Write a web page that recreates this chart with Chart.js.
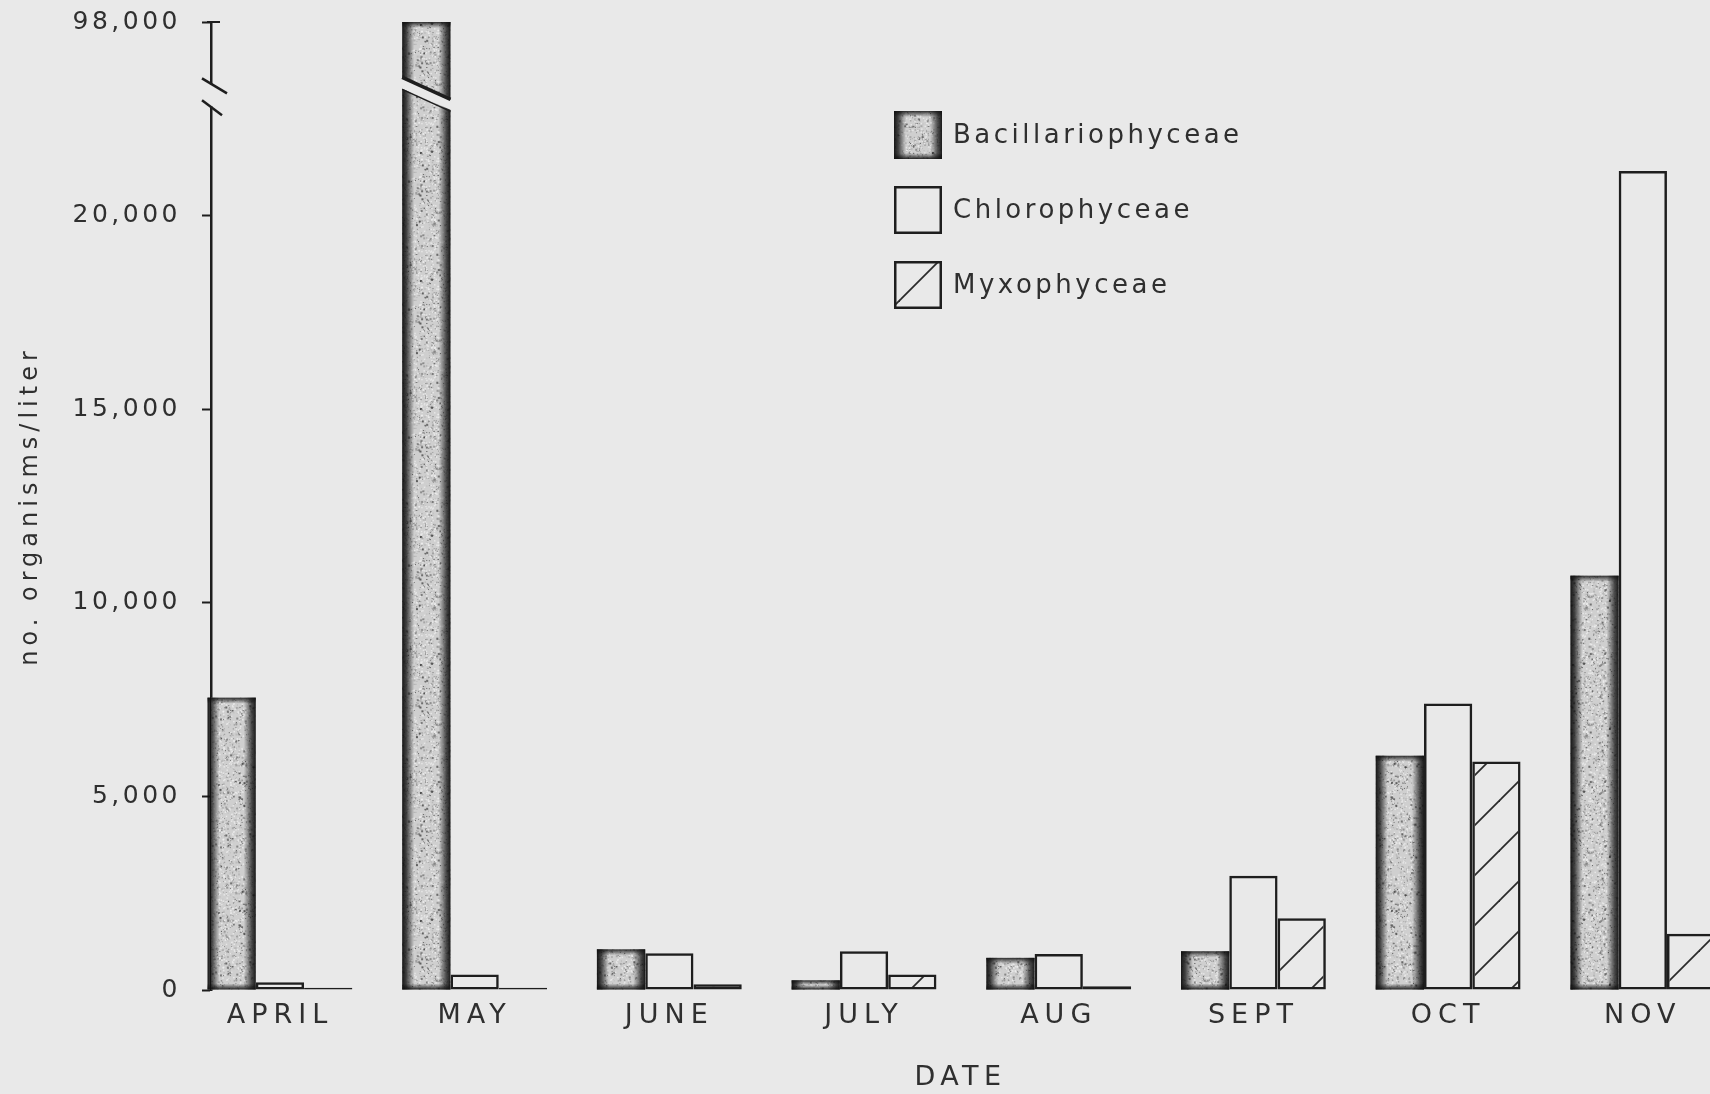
<!DOCTYPE html>
<html>
<head>
<meta charset="utf-8">
<title>Phytoplankton counts by month</title>
<script src="https://cdn.jsdelivr.net/npm/chart.js@4/dist/chart.umd.min.js"></script>
<style>
  html, body { margin: 0; padding: 0; background: #e9e9e9; overflow: hidden; }
  #wrap { width: 1710px; height: 1094px; }
  canvas { display: block; }
</style>
</head>
<body>
<div id="wrap"><canvas id="chart" width="1710" height="1094"></canvas></div>
<script>
// Monthly counts of three algal classes, organisms per litre
const months = ['APRIL', 'MAY', 'JUNE', 'JULY', 'AUG', 'SEPT', 'OCT', 'NOV'];
const bacillariophyceae = [7550, 98000, 1050, 250, 830, 1000, 6050, 10700];
const chlorophyceae     = [200, 400, 950, 1000, 930, 2950, 7400, 21150];
const myxophyceae       = [60, 60, 150, 400, 100, 1850, 5900, 1450];
const yTickValues = [0, 5000, 10000, 15000, 20000, 98000];

// Broken value axis: linear up to 22,000, the stretch up to 98,000 squeezed into the top
const LINEAR_LIMIT = 22000;
const AXIS_TOP = 98000;
const AXIS_TOP_DRAWN = 25000;
const BREAK_VALUE = 50000;

const BG = '#e9e9e9';
const INK = '#1e1e1e';
const TEXT = '#2f2f2f';
const FONT = 'DejaVu Sans';

function toAxis(v) {
  if (v <= LINEAR_LIMIT) return v;
  return LINEAR_LIMIT + (v - LINEAR_LIMIT) * (AXIS_TOP_DRAWN - LINEAR_LIMIT) / (AXIS_TOP - LINEAR_LIMIT);
}
function fromAxis(t) {
  if (t <= LINEAR_LIMIT) return t;
  return LINEAR_LIMIT + (t - LINEAR_LIMIT) * (AXIS_TOP - LINEAR_LIMIT) / (AXIS_TOP_DRAWN - LINEAR_LIMIT);
}

class BrokenAxis extends Chart.LinearScale {
  static id = 'brokenAxis';
  getPixelForValue(value) {
    return value === null ? NaN : super.getPixelForValue(toAxis(value));
  }
  getValueForPixel(pixel) {
    return fromAxis(super.getValueForPixel(pixel));
  }
  drawLabels(area) {
    this.ctx.save(); this.ctx.letterSpacing = '3.5px';
    super.drawLabels(area);
    this.ctx.restore();
  }
  drawTitle() {
    this.ctx.save(); this.ctx.letterSpacing = '5px';
    super.drawTitle();
    this.ctx.restore();
  }
}

class MonthAxis extends Chart.LinearScale {
  static id = 'monthAxis';
  drawLabels(area) {
    this.ctx.save(); this.ctx.letterSpacing = '6px';
    super.drawLabels(area);
    this.ctx.restore();
  }
  drawTitle() {
    this.ctx.save(); this.ctx.letterSpacing = '5.5px';
    super.drawTitle();
    this.ctx.restore();
  }
}
Chart.register(BrokenAxis, MonthAxis);

const canvas = document.getElementById('chart');
const ctx = canvas.getContext('2d');

// deterministic speckle generator for the stippled fill
function seeded(seed) {
  return function () {
    seed |= 0; seed = seed + 0x6D2B79F5 | 0;
    let t = Math.imul(seed ^ seed >>> 15, 1 | seed);
    t = t + Math.imul(t ^ t >>> 7, 61 | t) ^ t;
    return ((t ^ t >>> 14) >>> 0) / 4294967296;
  };
}

function makeStipple() {
  const c = document.createElement('canvas');
  c.width = c.height = 128;
  const g = c.getContext('2d');
  g.fillStyle = '#cfcfcf';
  g.fillRect(0, 0, 128, 128);
  const rnd = seeded(11);
  for (let i = 0; i < 1900; i++) {
    const x = rnd() * 128, y = rnd() * 128;
    const s = Math.floor(50 + rnd() * 140);
    g.fillStyle = `rgba(${s},${s},${s},${0.4 + rnd() * 0.5})`;
    const d = rnd() < 0.8 ? 1 : 2;
    g.fillRect(x, y, d, d);
  }
  for (let i = 0; i < 1100; i++) {
    g.fillStyle = 'rgba(238,238,238,0.75)';
    g.fillRect(rnd() * 128, rnd() * 128, 1.5, 1.5);
  }
  return ctx.createPattern(c, 'repeat');
}

function makeHatch() {
  const c = document.createElement('canvas');
  c.width = c.height = 50;
  const g = c.getContext('2d');
  g.strokeStyle = '#2a2a2a';
  g.lineWidth = 1.8;
  g.beginPath(); g.moveTo(-5, 55); g.lineTo(55, -5); g.stroke();
  g.beginPath(); g.moveTo(-5, 5); g.lineTo(5, -5); g.stroke();
  g.beginPath(); g.moveTo(45, 55); g.lineTo(55, 45); g.stroke();
  return ctx.createPattern(c, 'repeat');
}

const stipple = makeStipple();
const hatch = makeHatch();

// heavy inked edges of the stippled bars
function shadeEdges(c, L, T, W, H) {
  const ink = 'rgba(16,16,16,';
  const ew = Math.min(12, W / 2);
  let gr = c.createLinearGradient(L, 0, L + ew, 0);
  gr.addColorStop(0, ink + '0.97)'); gr.addColorStop(0.35, ink + '0.75)'); gr.addColorStop(1, ink + '0)');
  c.fillStyle = gr; c.fillRect(L, T, ew, H);
  gr = c.createLinearGradient(L + W, 0, L + W - ew, 0);
  gr.addColorStop(0, ink + '0.95)'); gr.addColorStop(0.35, ink + '0.7)'); gr.addColorStop(1, ink + '0)');
  c.fillStyle = gr; c.fillRect(L + W - ew, T, ew, H);
  const eh = Math.min(6, H / 2);
  gr = c.createLinearGradient(0, T, 0, T + eh);
  gr.addColorStop(0, ink + '0.85)'); gr.addColorStop(1, ink + '0)');
  c.fillStyle = gr; c.fillRect(L, T, W, eh);
  gr = c.createLinearGradient(0, T + H, 0, T + H - eh);
  gr.addColorStop(0, ink + '0.9)'); gr.addColorStop(1, ink + '0)');
  c.fillStyle = gr; c.fillRect(L, T + H - eh, W, eh);
}

function barBox(el) {
  const p = el.getProps(['x', 'y', 'base', 'width'], true);
  const T = Math.min(p.y, p.base);
  return { L: p.x - p.width / 2, T, W: p.width, H: Math.abs(p.base - p.y) };
}

const decor = {
  id: 'decor',
  afterDatasetsDraw(chart) {
    const c = chart.ctx;
    chart.data.datasets.forEach((ds, d) => {
      if (ds.swatch !== 'stipple') return;
      chart.getDatasetMeta(d).data.forEach(el => {
        const b = barBox(el);
        c.save(); shadeEdges(c, b.L, b.T, b.W, b.H); c.restore();
      });
    });
  },
  afterDraw(chart) {
    const c = chart.ctx;
    const y = chart.scales.y;
    const yb = y.getPixelForValue(BREAK_VALUE);
    // break across any bar that runs past the linear part of the axis
    chart.data.datasets.forEach((ds, d) => {
      chart.getDatasetMeta(d).data.forEach((el, i) => {
        if (ds.data[i].y <= LINEAR_LIMIT) return;
        const b = barBox(el);
        const L = b.L - 1, R = b.L + b.W + 1;
        c.save();
        c.fillStyle = BG;
        c.beginPath();
        c.moveTo(L, yb - 17); c.lineTo(R, yb + 5); c.lineTo(R, yb + 15); c.lineTo(L, yb - 7);
        c.closePath(); c.fill();
        c.strokeStyle = INK; c.lineCap = 'butt';
        c.lineWidth = 3.5;
        c.beginPath(); c.moveTo(L + 1, yb - 18); c.lineTo(R - 1, yb + 4); c.stroke();
        c.lineWidth = 1.5;
        c.beginPath(); c.moveTo(L + 1, yb - 6); c.lineTo(R - 1, yb + 16); c.stroke();
        c.restore();
      });
    });
    // break marks on the value axis and the cap on its top tick
    const ax = y.right;
    c.save();
    c.fillStyle = BG;
    c.fillRect(ax - 5, yb - 11, 10, 22);
    c.strokeStyle = INK; c.lineWidth = 2.5;
    c.beginPath(); c.moveTo(ax - 9, yb - 17); c.lineTo(ax + 16, yb - 2); c.stroke();
    c.beginPath(); c.moveTo(ax - 9, yb + 5); c.lineTo(ax + 11, yb + 20); c.stroke();
    const yt = y.getPixelForValue(AXIS_TOP);
    c.lineWidth = 2;
    c.beginPath(); c.moveTo(ax - 4, yt); c.lineTo(ax + 9, yt); c.stroke();
    c.restore();
  }
};

const boxLegend = {
  id: 'boxLegend',
  afterDraw(chart, args, opts) {
    const c = chart.ctx;
    chart.data.datasets.forEach((ds, i) => {
      const x = opts.x, y = opts.y + i * opts.step, s = opts.box;
      c.save();
      if (ds.swatch === 'stipple') {
        c.fillStyle = stipple; c.fillRect(x, y, s, s);
        shadeEdges(c, x, y, s, s);
      } else {
        if (ds.swatch === 'hatch') { c.fillStyle = hatch; c.fillRect(x, y, s, s); }
        c.strokeStyle = INK; c.lineWidth = 2.5;
        c.strokeRect(x + 1.25, y + 1.25, s - 2.5, s - 2.5);
      }
      c.letterSpacing = '3.5px';
      c.font = `26px "${FONT}"`;
      c.fillStyle = TEXT;
      c.textBaseline = 'middle';
      c.textAlign = 'left';
      c.fillText(ds.label, x + s + opts.gap, y + s / 2 + 1);
      c.restore();
    });
  }
};

const series = (vals) => months.map((m, i) => ({ x: i, y: vals[i] }));

new Chart(ctx, {
  type: 'bar',
  data: {
    datasets: [
      { label: 'Bacillariophyceae', data: series(bacillariophyceae), swatch: 'stipple',
        backgroundColor: stipple, borderWidth: 0 },
      { label: 'Chlorophyceae', data: series(chlorophyceae), swatch: 'plain',
        backgroundColor: 'rgba(0,0,0,0)', borderColor: INK, borderWidth: 2.5, borderSkipped: false },
      { label: 'Myxophyceae', data: series(myxophyceae), swatch: 'hatch',
        backgroundColor: hatch, borderColor: INK, borderWidth: 2.5, borderSkipped: false }
    ]
  },
  options: {
    responsive: false,
    animation: false,
    events: [],
    datasets: { bar: { categoryPercentage: 0.744, barPercentage: 1 } },
    layout: { padding: { top: 22, left: 0, right: 0, bottom: 0 } },
    plugins: {
      legend: { display: false },
      tooltip: { enabled: false },
      boxLegend: { x: 894, y: 111, step: 75, box: 48, gap: 11 }
    },
    scales: {
      x: {
        type: 'monthAxis',
        offset: false,
        min: -0.354,
        max: 7.345,
        bounds: 'data',
        afterBuildTicks: (s) => { s.ticks = months.map((m, i) => ({ value: i })); },
        afterFit: (s) => { s.height = 104; s.paddingLeft = 0; s.paddingRight = 0; },
        grid: { display: false, offset: false },
        border: { display: false },
        ticks: {
          autoSkip: false, maxRotation: 0, padding: 2, color: TEXT,
          font: { family: FONT, size: 27 },
          callback: (v) => months[v] ?? ''
        },
        title: {
          display: true, text: 'DATE', color: TEXT,
          font: { family: FONT, size: 27 }, padding: { top: 0, bottom: 0 }
        }
      },
      y: {
        type: 'brokenAxis',
        min: 0,
        max: AXIS_TOP_DRAWN,
        bounds: 'data',
        afterBuildTicks: (s) => { s.ticks = yTickValues.map(v => ({ value: v })); },
        afterFit: (s) => { s.width = 211; s.paddingTop = 0; s.paddingBottom = 0; },
        grid: { drawOnChartArea: false, drawTicks: true, tickLength: 9, tickColor: INK, tickWidth: 2 },
        border: { display: true, color: INK, width: 2.5 },
        ticks: {
          autoSkip: false, padding: 21, color: TEXT,
          font: { family: FONT, size: 25 },
          callback: (v) => v.toLocaleString('en-US')
        },
        title: {
          display: true, text: 'no. organisms/liter', color: TEXT,
          font: { family: FONT, size: 24 }, padding: { top: 16, bottom: 0 }
        }
      }
    }
  },
  plugins: [decor, boxLegend]
});
</script>
</body>
</html>
